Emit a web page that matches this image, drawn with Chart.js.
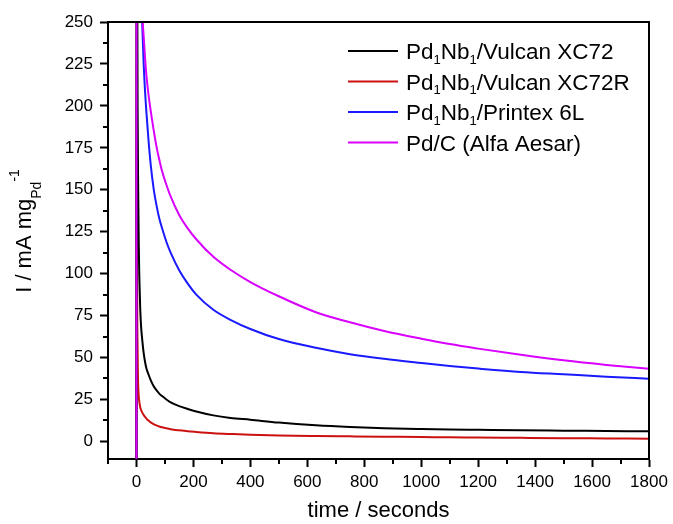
<!DOCTYPE html>
<html>
<head>
<meta charset="utf-8">
<title>Chronoamperometry</title>
<script src="https://cdn.jsdelivr.net/npm/chart.js@4.4.1/dist/chart.umd.min.js"></script>
<style>
  html, body { margin: 0; padding: 0; background: #fff; }
  #wrap { width: 673px; height: 524px; position: relative; }
</style>
</head>
<body>
<div id="wrap"><canvas id="ca"></canvas></div>
<script>
// --- data: current vs. time, one shared time base (s) ---
const timeS = [0, 1, 2, 4, 6, 8, 10, 13, 16, 20, 25, 30, 35, 42, 50, 60, 70, 80, 90, 105, 120, 150, 180, 210, 270, 330, 400, 500, 630, 750, 870, 1000, 1100, 1200, 1350, 1500, 1650, 1800];

const vulcanXC72  = [-20, 400, 320, 200, 150, 118, 98, 80, 69, 61, 53, 47.5, 43.5, 40, 36.5, 33, 30.5, 28.5, 27, 25, 23.3, 21, 19.3, 17.8, 15.5, 14, 12.9, 11.2, 9.6, 8.6, 7.9, 7.4, 7.1, 6.9, 6.6, 6.4, 6.2, 6.0];
const vulcanXC72R = [-20, 300, 120, 55, 34, 27, 23.5, 20.5, 18.8, 17.3, 15.8, 14.6, 13.6, 12.4, 11.3, 10.3, 9.5, 8.9, 8.4, 7.8, 7.3, 6.6, 6.0, 5.6, 4.9, 4.4, 3.9, 3.5, 3.2, 3.0, 2.8, 2.6, 2.4, 2.3, 2.1, 1.9, 1.75, 1.6];
const printex6L   = [-20, 600, 560, 480, 420, 370, 340, 300, 275, 250, 226, 209, 196, 180, 165, 151, 141, 133, 127, 119, 112.5, 102, 94, 87.5, 78.5, 72.5, 67, 61, 55.8, 52, 49.2, 46.7, 44.9, 43.4, 41.4, 40, 38.6, 37.4];
const pdCAlfa     = [-20, 700, 650, 560, 480, 420, 380, 330, 295, 258, 242, 229, 218, 207, 197, 186, 176, 168, 161, 153, 146, 135, 127, 120.5, 110, 102.3, 95, 86.5, 77, 71, 65.8, 61.2, 58, 55.3, 51.6, 48.3, 45.6, 43.3];

const xTicks = [0, 200, 400, 600, 800, 1000, 1200, 1400, 1600, 1800];
const xMinor = [-100, 100, 300, 500, 700, 900, 1100, 1300, 1500, 1700];
const yTicks = [0, 25, 50, 75, 100, 125, 150, 175, 200, 225, 250];
const yMinor = [12.5, 37.5, 62.5, 87.5, 112.5, 137.5, 162.5, 187.5, 212.5, 237.5];

// legend labels: [text, kind] pieces, kind 'sub' is a subscript
const seriesLabels = [
  [['Pd', ''], ['1', 'sub'], ['Nb', ''], ['1', 'sub'], ['/Vulcan XC72', '']],
  [['Pd', ''], ['1', 'sub'], ['Nb', ''], ['1', 'sub'], ['/Vulcan XC72R', '']],
  [['Pd', ''], ['1', 'sub'], ['Nb', ''], ['1', 'sub'], ['/Printex 6L', '']],
  [['Pd/C (Alfa Aesar)', '']]
];
const seriesColors = ['#000000', '#cc1111', '#1a1aff', '#d900ff'];
const seriesValues = [vulcanXC72, vulcanXC72R, printex6L, pdCAlfa];

const FONT = '"Liberation Sans", Arial, sans-serif';

const pts = vals => timeS.map((t, i) => ({ x: t, y: vals[i] }));

// --- frame (top/right), minor ticks, legend and y-axis title ---
const decor = {
  id: 'decor',
  afterDraw(chart) {
    const { ctx, chartArea: a, scales: { x, y } } = chart;
    ctx.save();
    ctx.strokeStyle = '#000';
    ctx.lineWidth = 2;
    ctx.beginPath();
    ctx.moveTo(a.left, a.top);
    ctx.lineTo(a.right, a.top);
    ctx.lineTo(a.right, a.bottom);
    ctx.stroke();

    // minor ticks
    ctx.beginPath();
    xMinor.forEach(v => {
      const px = Math.round(x.getPixelForValue(v));
      ctx.moveTo(px, a.bottom);
      ctx.lineTo(px, a.bottom + 5);
    });
    yMinor.forEach(v => {
      const py = Math.round(y.getPixelForValue(v));
      ctx.moveTo(a.left, py);
      ctx.lineTo(a.left - 5, py);
    });
    ctx.stroke();

    // legend
    const rowY = [51, 81.5, 112, 142.5];
    ctx.textBaseline = 'alphabetic';
    seriesLabels.forEach((parts, i) => {
      const yy = rowY[i];
      ctx.strokeStyle = seriesColors[i];
      ctx.lineWidth = 2;
      ctx.beginPath();
      ctx.moveTo(348, yy);
      ctx.lineTo(398, yy);
      ctx.stroke();
      let cx = 406;
      ctx.fillStyle = '#000';
      parts.forEach(([txt, kind]) => {
        if (kind === 'sub') {
          ctx.font = '13px ' + FONT;
          ctx.fillText(txt, cx, yy + 12.5);
        } else {
          ctx.font = '22.5px ' + FONT;
          ctx.fillText(txt, cx, yy + 8);
        }
        cx += ctx.measureText(txt).width;
      });
    });

    // y-axis title: I / mA mg_Pd^-1
    const main = 'I / mA mg', sub = 'Pd', sup = '-1';
    ctx.font = '22px ' + FONT;
    const wMain = ctx.measureText(main).width;
    ctx.font = '14px ' + FONT;
    const wSub = ctx.measureText(sub).width;
    const wSup = ctx.measureText(sup).width;
    const total = wMain + wSub + wSup;
    ctx.translate(31, 231);
    ctx.rotate(-Math.PI / 2);
    let sx = -total / 2;
    ctx.font = '22px ' + FONT;
    ctx.fillText(main, sx, 0);
    sx += wMain;
    ctx.font = '14px ' + FONT;
    ctx.fillText(sub, sx, 10);
    sx += wSub;
    ctx.fillText(sup, sx, -12);
    ctx.restore();
  }
};

const datasets = seriesValues.map((vals, i) => ({
  data: pts(vals),
  borderColor: seriesColors[i],
  backgroundColor: seriesColors[i],
  borderWidth: 2,
  pointRadius: 0,
  fill: false,
  cubicInterpolationMode: 'monotone',
  order: i === 3 ? 0 : 1
}));

new Chart(document.getElementById('ca'), {
  type: 'line',
  data: { datasets },
  options: {
    responsive: true,
    maintainAspectRatio: false,
    animation: false,
    devicePixelRatio: 1,
    layout: { padding: { left: 0, top: 22, right: 24, bottom: 0 } },
    plugins: { legend: { display: false }, tooltip: { enabled: false } },
    scales: {
      x: {
        type: 'linear',
        min: -100,
        max: 1800,
        afterBuildTicks: s => { s.ticks = xTicks.map(v => ({ value: v })); },
        afterFit: s => { s.height = 65; },
        grid: { drawOnChartArea: false, drawTicks: true, tickLength: 8, tickWidth: 2, tickColor: '#000' },
        border: { display: true, color: '#000', width: 2 },
        ticks: { color: '#000', font: { size: 17, family: FONT }, padding: 5, maxRotation: 0, autoSkip: false,
                 callback: v => String(v) },
        title: { display: true, text: 'time / seconds', color: '#000', font: { size: 22, family: FONT }, padding: 0 }
      },
      y: {
        min: -10.5,
        max: 250,
        afterBuildTicks: s => { s.ticks = yTicks.map(v => ({ value: v })); },
        afterFit: s => { s.width = 108; },
        grid: { drawOnChartArea: false, drawTicks: true, tickLength: 8, tickWidth: 2, tickColor: '#000' },
        border: { display: true, color: '#000', width: 2 },
        ticks: { color: '#000', font: { size: 17, family: FONT }, padding: 7, autoSkip: false,
                 callback: v => String(v) }
      }
    }
  },
  plugins: [decor]
});
</script>
</body>
</html>
